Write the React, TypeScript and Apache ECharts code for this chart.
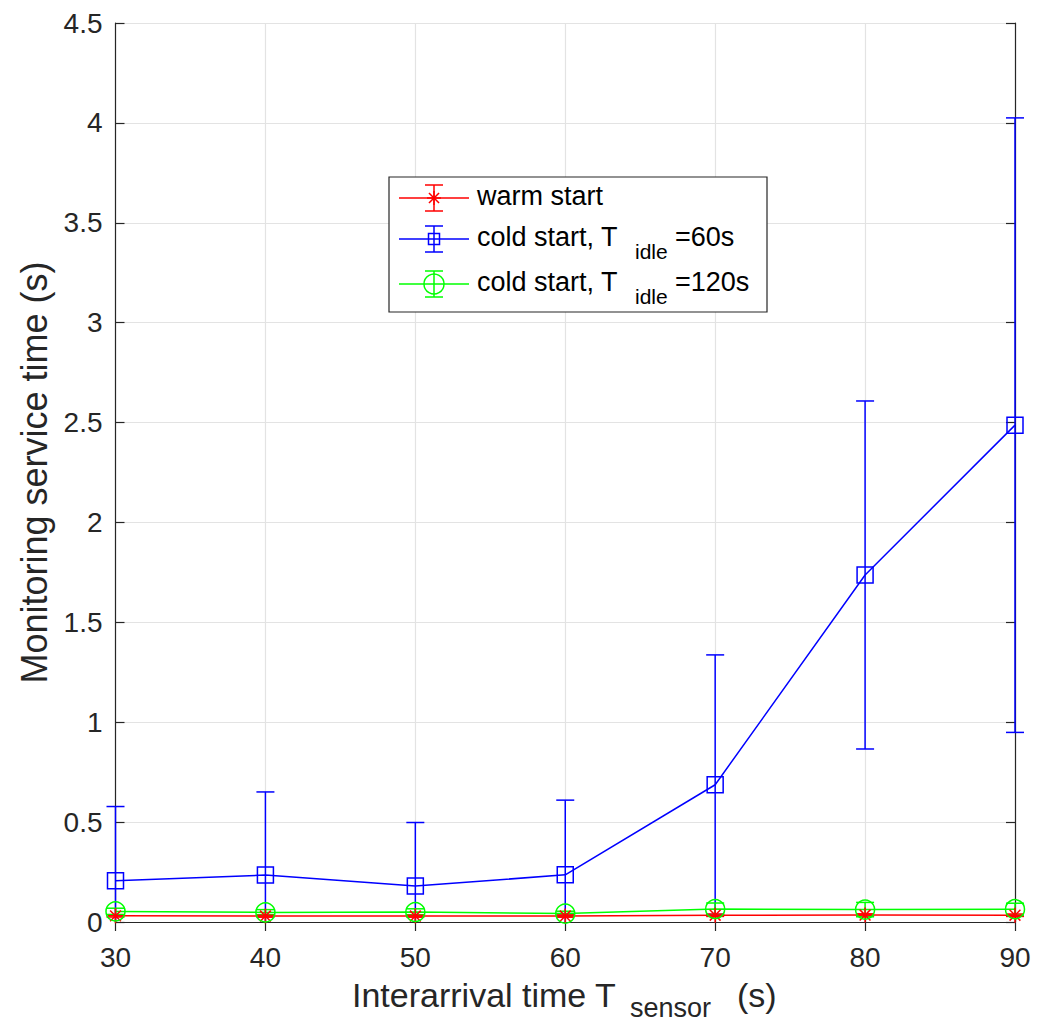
import React, { useEffect, useRef } from "react";
import * as echarts from "echarts";

const xValues = [30, 40, 50, 60, 70, 80, 90];
const warmMean = [0.031, 0.030, 0.030, 0.030, 0.034, 0.035, 0.034];
const warmErr = [0.006, 0.006, 0.006, 0.006, 0.006, 0.006, 0.006];
const cold60Mean = [0.206, 0.235, 0.180, 0.236, 0.687, 1.737, 2.487];
const cold60Err = [0.372, 0.416, 0.318, 0.374, 0.650, 0.871, 1.538];
const cold120Mean = [0.053, 0.048, 0.050, 0.042, 0.065, 0.062, 0.064];
const cold120Err = [0.016, 0.014, 0.016, 0.012, 0.030, 0.036, 0.030];

const xTicks = { min: 30, max: 90, interval: 10 };
const yTicks = { min: 0, max: 4.5, interval: 0.5 };

const legendLabels = ["warm start", "cold start, T", "cold start, T"];
const legendSubs = ["", "idle", "idle"];
const legendTails = ["", "=60s", "=120s"];
const xTitle = ["Interarrival time T", "sensor", "(s)"];
const yTitle = "Monitoring service time (s)";

const RED = "#ff0000";
const BLUE = "#0000ff";
const GREEN = "#00ff00";
const TXT = "#262626";
const FONT = "'Liberation Sans', Arial, Helvetica, sans-serif";

const ASTERISK =
  "path://M0,-1L0,1M-1,0L1,0M-0.72,-0.72L0.72,0.72M-0.72,0.72L0.72,-0.72";

function errSeries(mean: number[], err: number[], color: string) {
  return {
    type: "custom",
    silent: true,
    z: 3,
    data: xValues.map((x, i) => [x, mean[i] - err[i], mean[i] + err[i]]),
    encode: { x: 0, y: [1, 2] },
    renderItem: (params: any, api: any) => {
      const x = api.value(0);
      const lo = api.value(1);
      const hi = api.value(2);
      const pLo = api.coord([x, lo]);
      const pHi = api.coord([x, hi]);
      const cs = params.coordSys;
      const top = cs.y;
      const bottom = cs.y + cs.height;
      const clamp = (v: number) => Math.max(top, Math.min(bottom, v));
      const st = { stroke: color, lineWidth: 1.5 };
      const children: any[] = [
        {
          type: "line",
          shape: { x1: pHi[0], y1: clamp(pHi[1]), x2: pLo[0], y2: clamp(pLo[1]) },
          style: st,
        },
      ];
      const hw = 9;
      if (pHi[1] >= top && pHi[1] <= bottom)
        children.push({
          type: "line",
          shape: { x1: pHi[0] - hw, y1: pHi[1], x2: pHi[0] + hw, y2: pHi[1] },
          style: st,
        });
      if (pLo[1] >= top && pLo[1] <= bottom)
        children.push({
          type: "line",
          shape: { x1: pLo[0] - hw, y1: pLo[1], x2: pLo[0] + hw, y2: pLo[1] },
          style: st,
        });
      return { type: "group", children };
    },
  };
}

function lineSeries(name: string, mean: number[], color: string, symbol: string, size: number) {
  return {
    type: "line",
    name,
    z: 4,
    silent: true,
    data: xValues.map((x, i) => [x, mean[i]]),
    symbol,
    symbolSize: size,
    showAllSymbol: true,
    lineStyle: { color, width: 1.5 },
    itemStyle: { color: "none", borderColor: color, borderWidth: 1.5 },
    emphasis: { disabled: true },
  };
}

function legendGraphics() {
  const bx = 389, by = 177, bw = 378, bh = 135;
  const rows = [198, 239, 284];
  const colors = [RED, BLUE, GREEN];
  const els: any[] = [
    {
      type: "rect",
      shape: { x: bx, y: by, width: bw, height: bh },
      style: { fill: "#ffffff", stroke: TXT, lineWidth: 1.2 },
      z: 100,
    },
  ];
  rows.forEach((ry, i) => {
    const c = colors[i];
    const st = { stroke: c, lineWidth: 1.5, fill: "none" };
    const mx = 434;
    els.push({ type: "line", shape: { x1: 399, y1: ry, x2: 469, y2: ry }, style: st, z: 101 });
    els.push({ type: "line", shape: { x1: mx, y1: ry - 13, x2: mx, y2: ry + 13 }, style: st, z: 101 });
    els.push({ type: "line", shape: { x1: mx - 9, y1: ry - 13, x2: mx + 9, y2: ry - 13 }, style: st, z: 101 });
    els.push({ type: "line", shape: { x1: mx - 9, y1: ry + 13, x2: mx + 9, y2: ry + 13 }, style: st, z: 101 });
    if (i === 0) {
      const r = 7;
      const d = r * 0.72;
      els.push({ type: "line", shape: { x1: mx, y1: ry - r, x2: mx, y2: ry + r }, style: st, z: 101 });
      els.push({ type: "line", shape: { x1: mx - r, y1: ry, x2: mx + r, y2: ry }, style: st, z: 101 });
      els.push({ type: "line", shape: { x1: mx - d, y1: ry - d, x2: mx + d, y2: ry + d }, style: st, z: 101 });
      els.push({ type: "line", shape: { x1: mx - d, y1: ry + d, x2: mx + d, y2: ry - d }, style: st, z: 101 });
    } else if (i === 1) {
      els.push({ type: "rect", shape: { x: mx - 5.5, y: ry - 5.5, width: 11, height: 11 }, style: st, z: 101 });
    } else {
      els.push({ type: "circle", shape: { cx: mx, cy: ry, r: 10 }, style: st, z: 101 });
    }
    els.push({
      type: "text",
      x: 477,
      y: ry - 2,
      style: { text: legendLabels[i], fill: "#000000", font: `27px ${FONT}`, textVerticalAlign: "middle" },
      z: 101,
    });
    if (legendSubs[i]) {
      els.push({
        type: "text",
        x: 635,
        y: ry + 12,
        style: { text: legendSubs[i], fill: "#000000", font: `21px ${FONT}`, textVerticalAlign: "middle" },
        z: 101,
      });
      els.push({
        type: "text",
        x: 675,
        y: ry - 2,
        style: { text: legendTails[i], fill: "#000000", font: `27px ${FONT}`, textVerticalAlign: "middle" },
        z: 101,
      });
    }
  });
  // x-axis title with subscript
  els.push({
    type: "text",
    x: 352,
    y: 995,
    style: { text: xTitle[0], fill: TXT, font: `34px ${FONT}`, textVerticalAlign: "middle" },
  });
  els.push({
    type: "text",
    x: 630,
    y: 1008,
    style: { text: xTitle[1], fill: TXT, font: `27px ${FONT}`, textVerticalAlign: "middle" },
  });
  els.push({
    type: "text",
    x: 737,
    y: 995,
    style: { text: xTitle[2], fill: TXT, font: `34px ${FONT}`, textVerticalAlign: "middle" },
  });
  return els;
}

export default function App() {
  const ref = useRef<HTMLDivElement>(null);
  useEffect(() => {
    if (!ref.current) return;
    const chart = echarts.init(ref.current, undefined, { renderer: "svg" });
    const axisLine = { show: true, lineStyle: { color: TXT, width: 1.2 } };
    const tick = { show: true, inside: true, length: 9, lineStyle: { color: TXT, width: 1.2 } };
    const split = { show: true, lineStyle: { color: "#e3e3e3", width: 1.2 } };
    chart.setOption({
      animation: false,
      backgroundColor: "#ffffff",
      textStyle: { fontFamily: FONT },
      grid: { left: 115.5, right: 31, top: 23, bottom: 100, containLabel: false },
      xAxis: [
        {
          type: "value",
          ...xTicks,
          position: "bottom",
          axisLine,
          axisTick: tick,
          splitLine: split,
          axisLabel: { color: TXT, fontSize: 28, margin: 21, fontFamily: FONT },
        },
        {
          type: "value",
          ...xTicks,
          position: "top",
          axisLine,
          axisTick: tick,
          splitLine: { show: false },
          axisLabel: { show: false },
        },
      ],
      yAxis: [
        {
          type: "value",
          ...yTicks,
          position: "left",
          axisLine,
          axisTick: tick,
          splitLine: split,
          axisLabel: { color: TXT, fontSize: 28, margin: 13, fontFamily: FONT },
          name: yTitle,
          nameLocation: "middle",
          nameGap: 62,
          nameTextStyle: { color: TXT, fontSize: 36, fontFamily: FONT },
        },
        {
          type: "value",
          ...yTicks,
          position: "right",
          axisLine,
          axisTick: tick,
          splitLine: { show: false },
          axisLabel: { show: false },
        },
      ],
      series: [
        errSeries(warmMean, warmErr, RED),
        lineSeries("warm start", warmMean, RED, ASTERISK, 15),
        errSeries(cold60Mean, cold60Err, BLUE),
        lineSeries("cold start, T idle=60s", cold60Mean, BLUE, "rect", 16),
        errSeries(cold120Mean, cold120Err, GREEN),
        lineSeries("cold start, T idle=120s", cold120Mean, GREEN, "circle", 19),
      ],
      graphic: legendGraphics(),
    });
    return () => chart.dispose();
  }, []);
  return <div ref={ref} style={{ width: 1046, height: 1022, position: "absolute", left: 0, top: 0 }} />;
}
